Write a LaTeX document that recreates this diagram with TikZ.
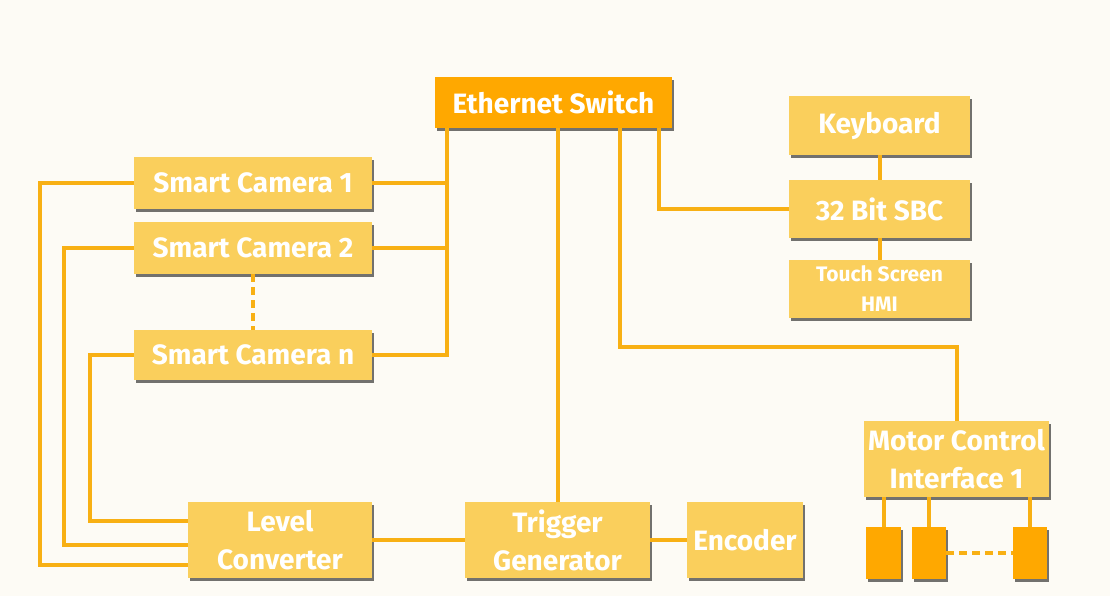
\documentclass[tikz,border=0pt]{standalone}
\usepackage{fontspec}
\setmainfont{Fira Sans}
\usetikzlibrary{shadows,calc}
\definecolor{bg}{RGB}{253,251,245}
\definecolor{boxc}{RGB}{250,207,92}
\definecolor{darkbox}{RGB}{255,168,0}
\definecolor{linec}{RGB}{248,176,20}
\tikzset{
  box/.style={rectangle, fill=boxc, text=white, font=\bfseries\fontsize{28}{38}\selectfont, align=center, inner sep=0pt,
    drop shadow={shadow xshift=2pt, shadow yshift=-3pt, fill=black, opacity=0.55}},
  dbox/.style={box, fill=darkbox},
  smallbox/.style={box, font=\bfseries\fontsize{21}{30}\selectfont},
  wire/.style={draw=linec, line width=4pt},
  dwire/.style={wire, dash pattern=on 8pt off 5pt}
}
\begin{document}
\begin{tikzpicture}[x=1pt,y=-1pt]
\fill[bg] (0,0) rectangle (1110,596);
\useasboundingbox (0,0) rectangle (1110,596);

\node[dbox, minimum width=237, minimum height=51] (eth) at (553.5,102.5) {Ethernet Switch};
\node[box, minimum width=181, minimum height=59] (kb) at (879.5,125.5) {Keyboard};
\node[box, minimum width=181, minimum height=58] (sbc) at (879.5,209) {32 Bit SBC};
\node[smallbox, minimum width=181, minimum height=58] (touch) at (879.5,289) {Touch Screen\\HMI};
\node[box, minimum width=238, minimum height=52] (cam1) at (253,183) {Smart Camera 1};
\node[box, minimum width=238, minimum height=52] (cam2) at (253,248) {Smart Camera 2};
\node[box, minimum width=238, minimum height=50] (camn) at (253,355) {Smart Camera n};
\node[box, minimum width=184, minimum height=76] (lvl) at (280,540) {Level\\Converter};
\node[box, minimum width=185, minimum height=76] (trig) at (557.5,540) {Trigger\\Generator};
\node[box, minimum width=116, minimum height=76] (enc) at (745,540) {Encoder};
\node[box, minimum width=185, minimum height=76] (motor) at (956.5,459) {Motor Control\\Interface 1};
\node[dbox, minimum width=35, minimum height=52] (b1) at (883.5,553) {};
\node[dbox, minimum width=34, minimum height=52] (b2) at (929,553) {};
\node[dbox, minimum width=34, minimum height=52] (b3) at (1030,553) {};

\coordinate (bus) at (447,0);
\coordinate (turn) at (620,347);
\coordinate (sb) at (659,0);
\coordinate (l1) at (40,565);
\coordinate (l2) at (64,545);
\coordinate (l3) at (90,521);

\draw[wire] (eth.south -| bus) -- (camn.east -| bus) -- (camn.east);
\draw[wire] (cam1.east) -- (cam1.east -| bus);
\draw[wire] (cam2.east) -- (cam2.east -| bus);
\draw[wire] (eth.south -| trig.north) -- (trig.north);
\draw[wire] (eth.south -| turn) -- (turn) -| (motor.north);
\draw[wire] (eth.south -| sb) |- (sbc.west);
\draw[wire] (kb.south) -- (sbc.north);
\draw[wire] (sbc.south) -- (touch.north);
\draw[wire] (cam1.west) -| (l1) -- (l1 -| lvl.west);
\draw[wire] (cam2.west) -| (l2) -- (l2 -| lvl.west);
\draw[wire] (camn.west) -| (l3) -- (l3 -| lvl.west);
\draw[wire] (lvl.east) -- (trig.west);
\draw[wire] (trig.east) -- (enc.west);
\draw[dwire] (cam2.south) -- (camn.north);
\draw[wire] (b1.north) -- (b1.north |- motor.south);
\draw[wire] (b2.north) -- (b2.north |- motor.south);
\draw[wire] (b3.north) -- (b3.north |- motor.south);
\draw[dwire] (b2.east) -- (b3.west);
\end{tikzpicture}
\end{document}
